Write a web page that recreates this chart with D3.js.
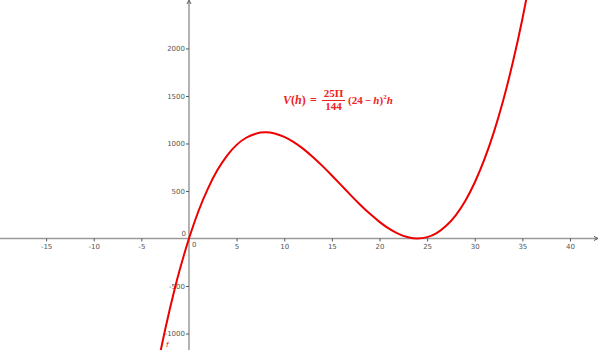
<!DOCTYPE html>
<html lang="en">
<head>
  <meta charset="UTF-8">
  <title>V(h) plot</title>
  <script src="https://d3js.org/d3.v7.min.js"></script>
  <style>
    body { margin: 0; background: #fff; }
  </style>
</head>
<body>
  <svg id="plot" width="600" height="350"></svg>

  <script>
    // sampled points of the red curve (h, V)
    const hValues = [-3, -2.5, -2, -1.5, -1, -0.5, 0, 1, 2, 3, 4, 5, 6, 7, 8, 9, 10, 11, 12,
      13, 14, 15, 16, 17, 18, 19, 20, 21, 22, 23, 24, 25, 26, 27, 28, 29, 30, 31, 32, 33, 34, 35, 36];
    const vValues = [-1193, -958, -737, -532, -341, -164, 0, 289, 528, 722, 873, 985, 1060, 1103, 1117,
      1105, 1069, 1014, 943, 858, 764, 663, 559, 454, 353, 259, 175, 103, 48, 13, 0, 14, 57, 133,
      244, 395, 589, 829, 1117, 1458, 1854, 2310, 2828];

    const xTicks = [-15, -10, -5, 5, 10, 15, 20, 25, 30, 35, 40];
    const yTicks = [-1000, -500, 500, 1000, 1500, 2000];

    const svg = d3.select('#plot');
    const width = 600, height = 350;

    // view window
    const x = d3.scaleLinear().domain([-19.84, 43.15]).range([0, width]);
    const y = d3.scaleLinear().domain([2510, -1174]).range([0, height]);

    const axisColor = '#9a9a9a';
    const fmt = d => String(d);

    // x axis
    const gx = svg.append('g')
      .attr('transform', `translate(0,${y(0)})`)
      .call(d3.axisBottom(x).tickValues(xTicks).tickSize(3).tickSizeOuter(0).tickFormat(fmt));
    gx.select('.domain').attr('stroke', axisColor).attr('stroke-width', 1.5).attr('d', `M0,0H597`);
    gx.selectAll('.tick line').attr('stroke', '#555').attr('stroke-width', 1);
    gx.selectAll('.tick text')
      .attr('fill', '#555').attr('font-size', 7).attr('font-family', 'DejaVu Sans, sans-serif')
      .attr('y', 6);

    // y axis
    const gy = svg.append('g')
      .attr('transform', `translate(${x(0)},0)`)
      .call(d3.axisLeft(y).tickValues(yTicks).tickSize(3).tickSizeOuter(0).tickFormat(fmt));
    gy.select('.domain').attr('stroke', axisColor).attr('stroke-width', 1.5).attr('d', `M0,1V${height}`);
    gy.selectAll('.tick line').attr('stroke', '#555').attr('stroke-width', 1);
    gy.selectAll('.tick text')
      .attr('fill', '#555').attr('font-size', 7).attr('font-family', 'DejaVu Sans, sans-serif')
      .attr('x', -4);

    // arrow heads
    svg.append('path')
      .attr('d', `M${x(0) - 2},4L${x(0)},0L${x(0) + 2},4`)
      .attr('fill', 'none').attr('stroke', '#555').attr('stroke-width', 1);
    svg.append('path')
      .attr('d', `M594,${y(0) - 2}L598,${y(0)}L594,${y(0) + 2}`)
      .attr('fill', 'none').attr('stroke', '#555').attr('stroke-width', 1);

    // origin labels
    svg.append('text').attr('x', x(0) - 3).attr('y', y(0) - 2)
      .attr('text-anchor', 'end').attr('font-size', 7).attr('fill', '#555')
      .attr('font-family', 'DejaVu Sans, sans-serif').text('0');
    svg.append('text').attr('x', x(0) + 3).attr('y', y(0) + 9)
      .attr('font-size', 7).attr('fill', '#555')
      .attr('font-family', 'DejaVu Sans, sans-serif').text('0');

    // curve
    const pts = hValues.map((h, i) => [h, vValues[i]]);
    svg.append('clipPath').attr('id', 'clip')
      .append('rect').attr('width', width).attr('height', height);
    svg.append('path')
      .datum(pts)
      .attr('clip-path', 'url(#clip)')
      .attr('fill', 'none')
      .attr('stroke', '#ee0000')
      .attr('stroke-width', 2)
      .attr('d', d3.line().x(d => x(d[0])).y(d => y(d[1])).curve(d3.curveNatural));

    // function name label
    svg.append('text').attr('x', 166).attr('y', 347)
      .attr('font-size', 7).attr('font-style', 'italic').attr('fill', '#ee0000')
      .attr('font-family', 'DejaVu Sans, sans-serif').text('f');

    // formula
    const red = '#ee2222';
    const f = svg.append('g').attr('fill', red)
      .attr('font-family', 'Liberation Serif, serif').attr('font-weight', 'bold').attr('font-size', 12);
    const lhs = f.append('text').attr('x', 283).attr('y', 104);
    lhs.append('tspan').attr('font-style', 'italic').text('V');
    lhs.append('tspan').text('(');
    lhs.append('tspan').attr('font-style', 'italic').text('h');
    lhs.append('tspan').text(')');
    f.append('text').attr('x', 310).attr('y', 104).text('=');
    f.append('text').attr('x', 333.5).attr('y', 97).attr('text-anchor', 'middle').attr('font-size', 11).text('25Π');
    f.append('line').attr('x1', 322).attr('x2', 345).attr('y1', 100.5).attr('y2', 100.5)
      .attr('stroke', red).attr('stroke-width', 1);
    f.append('text').attr('x', 333.5).attr('y', 110).attr('text-anchor', 'middle').attr('font-size', 11).text('144');
    const rhs = f.append('text').attr('x', 348).attr('y', 104).attr('font-size', 11);
    rhs.append('tspan').text('(24\u2009−\u2009');
    rhs.append('tspan').attr('font-style', 'italic').text('h');
    rhs.append('tspan').text(')');
    rhs.append('tspan').attr('font-size', 7).attr('dy', -5).text('2');
    rhs.append('tspan').attr('font-style', 'italic').attr('dy', 5).text('h');
  </script>
</body>
</html>
